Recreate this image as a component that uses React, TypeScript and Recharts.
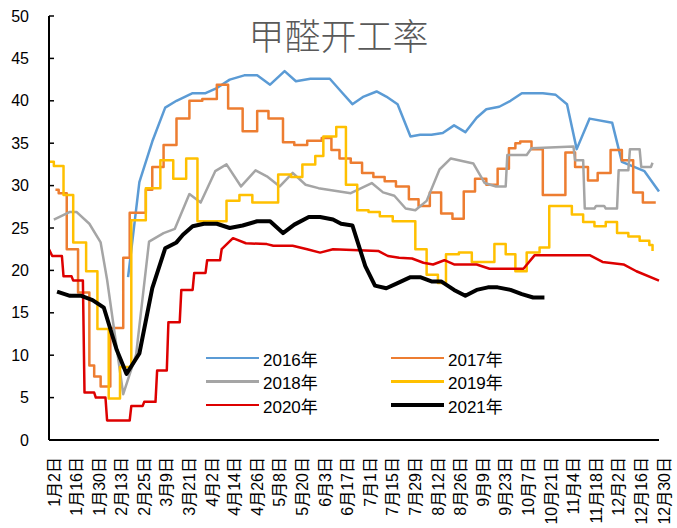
import { LineChart, Line, XAxis, YAxis } from 'recharts';

// x positions are days counted from 1月2日, labels every 14 days
const xLabels = [
  '1月2日', '1月16日', '1月30日', '2月13日', '2月25日', '3月9日', '3月21日',
  '4月2日', '4月14日', '4月26日', '5月8日', '5月20日', '6月3日', '6月17日',
  '7月1日', '7月15日', '7月29日', '8月12日', '8月26日', '9月9日', '9月23日',
  '10月7日', '10月21日', '11月4日', '11月18日', '12月2日', '12月16日', '12月30日',
];
const xTicks = xLabels.map((_, i) => i * 14);
const yTicks = [0, 5, 10, 15, 20, 25, 30, 35, 40, 45, 50];

type Pt = [number, number];

const s2016: Pt[] = [
  [49, 19.2], [56, 30.4], [64, 35.2], [72, 39.2], [79, 40.0], [89, 40.9], [97, 40.9],
  [104, 41.5], [112, 42.5], [121, 43.0], [129, 43.0], [137, 41.9], [146, 43.5], [153, 42.3],
  [162, 42.6], [174, 42.6], [181, 41.1], [188, 39.6], [195, 40.5], [203, 41.1], [209, 40.5],
  [216, 39.6], [224, 35.8], [230, 36.0], [237, 36.0], [244, 36.2], [251, 37.1], [258, 36.3],
  [265, 38.0], [271, 39.0], [279, 39.3], [286, 40.0], [293, 40.9], [306, 40.9], [314, 40.7],
  [321, 39.6], [327, 34.3], [335, 37.9], [349, 37.4], [355, 32.8], [369, 31.7], [378, 29.3],
];

const s2017: Pt[] = [
  [4, 29.5], [6, 29.1], [11, 22.5], [18, 17.4], [25, 8.8], [28, 7.5], [32, 6.3], [38, 13.2],
  [46, 21.5], [50, 26.8], [60, 29.5], [64, 32.2], [71, 34.8], [79, 37.9], [87, 40.0], [95, 40.2],
  [104, 41.9], [111, 39.1], [120, 36.4], [129, 38.8], [136, 37.9], [145, 35.1], [152, 34.8],
  [160, 35.3], [169, 35.6], [175, 34.2], [180, 33.2], [187, 32.7], [194, 31.5], [201, 31.0],
  [208, 30.5], [215, 29.9], [223, 28.4], [229, 27.6], [236, 29.2], [243, 26.7], [250, 26.1],
  [257, 29.3], [264, 30.8], [271, 30.1], [278, 32.0], [285, 34.4], [289, 35.0], [292, 35.2],
  [299, 34.3], [306, 28.9], [320, 33.9], [326, 32.2], [334, 30.6], [340, 31.5], [348, 34.2],
  [355, 33.0], [362, 29.2], [368, 28.0], [376, 28.0],
];

const s2018: Pt[] = [
  [3, 26.0], [13, 26.9], [17, 26.9], [25, 25.5], [32, 23.3], [36, 18.9], [46, 5.4], [54, 10.1],
  [62, 23.4], [71, 24.4], [78, 24.9], [87, 29.0], [94, 28.0], [103, 31.7], [110, 32.5],
  [119, 29.9], [128, 31.8], [135, 31.1], [143, 29.9], [151, 31.5], [159, 30.1], [167, 29.7],
  [180, 29.3], [187, 29.1], [200, 30.3], [207, 29.2], [214, 28.8], [221, 27.3], [227, 27.1],
  [234, 28.2], [242, 31.9], [249, 33.2], [263, 32.6], [270, 30.3], [277, 29.9], [283, 29.9],
  [284, 33.6], [296, 33.6], [299, 34.4], [325, 34.6], [326, 33.0], [331, 33.0], [332, 27.3],
  [338, 27.3], [339, 27.6], [344, 27.6], [345, 27.3], [352, 27.3], [353, 31.8], [359, 31.8],
  [360, 34.3], [366, 34.3], [367, 32.2], [373, 32.2], [374, 32.7],
];

const s2019: Pt[] = [
  [0, 32.8], [3, 32.3], [9, 28.9], [15, 23.3], [23, 19.9], [30, 13.1], [37, 4.9], [44, 8.6],
  [51, 25.9], [60, 29.7], [69, 33.0], [77, 30.8], [85, 33.2], [92, 25.8], [110, 28.2],
  [118, 28.9], [126, 28.0], [142, 31.3], [150, 31.0], [157, 32.5], [165, 33.5], [170, 35.8],
  [178, 36.9], [184, 30.1], [191, 27.1], [198, 26.9], [205, 26.4], [213, 25.8], [227, 22.5],
  [234, 19.5], [241, 18.5], [246, 21.9], [254, 22.1], [262, 21.0], [276, 23.1], [283, 21.9],
  [289, 19.9], [296, 22.1], [304, 22.7], [310, 27.6], [324, 26.6], [331, 25.7], [338, 25.2],
  [345, 25.7], [352, 24.4], [359, 24.0], [366, 23.5], [372, 23.0], [374, 22.3],
];

const s2020: Pt[] = [
  [0, 22.5], [2, 21.7], [8, 21.7], [9, 19.3], [14, 19.3], [15, 18.8], [21, 18.8], [22, 5.6],
  [28, 5.6], [29, 5.0], [35, 5.0], [36, 2.3], [50, 2.3], [51, 4.0], [58, 4.0], [59, 4.5],
  [66, 4.5], [67, 8.2], [73, 8.2], [74, 13.9], [81, 13.9], [82, 17.7], [89, 17.7], [90, 19.7],
  [97, 19.7], [98, 21.2], [106, 21.2], [107, 22.5], [114, 23.8], [122, 23.2], [135, 23.1],
  [139, 22.9], [151, 22.9], [160, 22.5], [168, 22.1], [176, 22.5], [204, 22.3], [210, 21.7],
  [217, 21.5], [225, 21.4], [232, 20.9], [238, 20.7], [245, 21.2], [251, 20.7], [265, 20.7],
  [273, 20.2], [294, 20.2], [301, 21.8], [335, 21.8], [343, 21.0], [356, 20.7], [364, 19.9],
  [378, 18.8],
];

const s2021: Pt[] = [
  [5, 17.5], [13, 17.0], [20, 17.0], [27, 16.5], [34, 15.6], [42, 10.6], [48, 7.8], [56, 10.2],
  [64, 17.9], [72, 22.6], [79, 23.3], [83, 24.2], [89, 25.2], [96, 25.5], [104, 25.5],
  [112, 25.0], [120, 25.3], [129, 25.8], [137, 25.8], [145, 24.4], [152, 25.4], [161, 26.3],
  [168, 26.3], [176, 26.0], [181, 25.5], [188, 25.3], [196, 20.5], [202, 18.2], [209, 17.9],
  [216, 18.5], [224, 19.2], [230, 19.2], [237, 18.7], [243, 18.7], [251, 17.7], [258, 17.0],
  [265, 17.7], [272, 18.0], [278, 18.0], [286, 17.7], [293, 17.2], [300, 16.8], [307, 16.8],
];

const series = [
  { name: '2016年', data: s2016, color: '#5B9BD5', width: 2.5, type: 'linear' },
  { name: '2017年', data: s2017, color: '#ED7D31', width: 2.5, type: 'stepAfter' },
  { name: '2018年', data: s2018, color: '#A5A5A5', width: 2.5, type: 'linear' },
  { name: '2019年', data: s2019, color: '#FFC000', width: 2.5, type: 'stepAfter' },
  { name: '2020年', data: s2020, color: '#DD0000', width: 2.5, type: 'linear' },
  { name: '2021年', data: s2021, color: '#000000', width: 4, type: 'linear' },
];

const FONT = "'Liberation Sans', Arial, 'Noto Sans CJK SC', sans-serif";

const XTick = (props: any) => {
  const { x, payload } = props;
  const label = xLabels[Math.round(payload.value / 14)];
  return (
    <text
      transform={`translate(${x + 5},457) rotate(-90)`}
      textAnchor="end"
      dominantBaseline="central"
      fontSize={16}
      fontFamily={FONT}
      fill="#000"
    >
      {label}
    </text>
  );
};

const YTick = (props: any) => {
  const { y, payload } = props;
  return (
    <g>
      <line x1={49} x2={54} y1={y} y2={y} stroke="#000" strokeWidth={1.5} />
      <text x={29} y={y} textAnchor="end" dominantBaseline="central" fontSize={16} fontFamily={FONT} fill="#000">
        {payload.value}
      </text>
    </g>
  );
};

export default function App() {
  return (
    <div style={{ position: 'absolute', left: 0, top: 0, width: 677, height: 528, background: '#fff' }}>
      <LineChart width={677} height={528} margin={{ top: 16, right: 18, bottom: 0, left: 0 }}>
        <XAxis
          type="number"
          dataKey="d"
          domain={[0, 378]}
          ticks={xTicks}
          interval={0}
          tick={<XTick />}
          tickLine={false}
          axisLine={{ stroke: '#000', strokeWidth: 2 }}
          height={88}
        />
        <YAxis
          type="number"
          domain={[0, 50]}
          ticks={yTicks}
          interval={0}
          width={49}
          tick={<YTick />}
          tickLine={false}
          axisLine={{ stroke: '#000', strokeWidth: 2 }}
        />
        {series.map((s) => (
          <Line
            key={s.name}
            data={s.data.map(([d, v]) => ({ d, v }))}
            dataKey="v"
            type={s.type as any}
            stroke={s.color}
            strokeWidth={s.width}
            strokeLinejoin="round"
            dot={false}
            activeDot={false}
            isAnimationActive={false}
          />
        ))}
      </LineChart>
      <div
        style={{
          position: 'absolute', left: 0, top: 12, width: 677, textAlign: 'center',
          fontFamily: "'Noto Sans CJK SC', sans-serif", fontWeight: 300, fontSize: 36, color: '#595959', lineHeight: '44px',
        }}
      >
        甲醛开工率
      </div>
      {series.map((s, i) => (
        <div
          key={s.name}
          style={{
            position: 'absolute', left: i % 2 === 0 ? 206 : 391, top: 346 + Math.floor(i / 2) * 23.5,
            height: 24, display: 'flex', alignItems: 'center',
          }}
        >
          <span style={{ display: 'inline-block', width: 53, height: s.width, background: s.color }} />
          <span style={{ marginLeft: 4, fontFamily: FONT, fontSize: 17, color: '#000' }}>{s.name}</span>
        </div>
      ))}
    </div>
  );
}
